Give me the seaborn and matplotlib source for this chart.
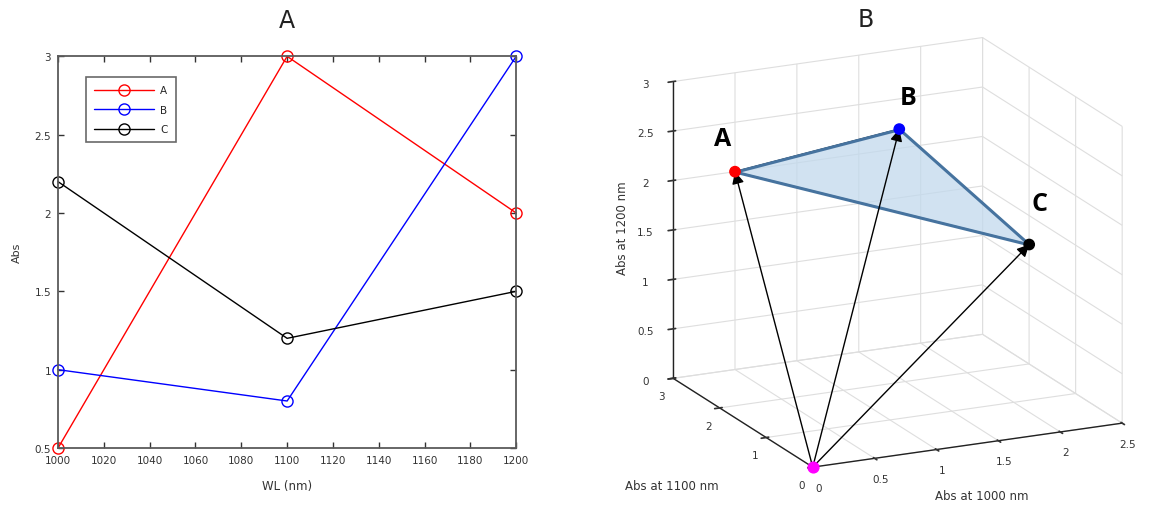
import numpy as np
import pandas as pd
import matplotlib
matplotlib.use("Agg")
import matplotlib.pyplot as plt
import matplotlib.transforms as mtransforms
import seaborn as sns
from matplotlib.patches import FancyArrowPatch
from mpl_toolkits.mplot3d import proj3d
from mpl_toolkits.mplot3d.art3d import Poly3DCollection

# Absorbance of three samples at three wavelengths
wavelengths = [1000, 1100, 1200]
abs_a = [0.5, 3.0, 2.0]
abs_b = [1.0, 0.8, 3.0]
abs_c = [2.2, 1.2, 1.5]
samples = ["A", "B", "C"]
sample_colors = ["#ff0000", "#0000ff", "#000000"]
origin_color = "#ff00ff"

x_ticks = list(range(1000, 1201, 20))
y_ticks = [0.5, 1, 1.5, 2, 2.5, 3]
x3_ticks = [0, 0.5, 1, 1.5, 2, 2.5]
y3_ticks = [0, 1, 2, 3]
z3_ticks = [0, 0.5, 1, 1.5, 2, 2.5, 3]


class Arrow3D(FancyArrowPatch):
    """A filled-head arrow between two 3D data points."""

    def __init__(self, start, end, **kwargs):
        super().__init__((0, 0), (0, 0), **kwargs)
        self._verts3d = np.array([start, end], dtype=float).T

    def do_3d_projection(self, renderer=None):
        xs3d, ys3d, zs3d = self._verts3d
        xs, ys, zs = proj3d.proj_transform(xs3d, ys3d, zs3d, self.axes.M)
        self.set_positions((xs[0], ys[0]), (xs[1], ys[1]))
        return np.min(zs)


def projected_anchor(ax3d, point):
    """Screen-space anchor of a 3D data point, for annotations."""
    def _anchor(renderer):
        xs, ys, _ = proj3d.proj_transform(*point, ax3d.get_proj())
        px, py = ax3d.transData.transform((xs, ys))
        return mtransforms.Bbox.from_bounds(px, py, 0, 0)
    return _anchor


sns.set_theme(style="white")
plt.rcParams["font.family"] = ["DejaVu Sans"]
plt.rcParams["grid.color"] = "#dedede"
plt.rcParams["grid.linewidth"] = 0.8

df = pd.DataFrame({
    "WL": wavelengths * 3,
    "Abs": abs_a + abs_b + abs_c,
    "Sample": np.repeat(samples, len(wavelengths)),
})

fig = plt.figure(figsize=(11.54, 5.10), dpi=100)

# ---- Panel A: absorbance spectra ----
ax = fig.add_axes([0.0503, 0.1196, 0.397, 0.768])
sns.lineplot(data=df, x="WL", y="Abs", hue="Sample", hue_order=samples,
             palette=sample_colors, marker="o", markersize=8,
             linewidth=1.0, legend=False, ax=ax)
for line, col in zip(ax.lines, sample_colors):
    line.set_markerfacecolor("none")
    line.set_markeredgecolor(col)
    line.set_markeredgewidth(1.0)
    line.set_clip_on(False)

ax.set_xlim(1000, 1200)
ax.set_ylim(0.5, 3)
ax.set_xticks(x_ticks)
ax.set_yticks(y_ticks)
ax.set_yticklabels([f"{v:g}" for v in y_ticks])
ax.tick_params(direction="in", length=4, width=1, top=True, right=True,
               bottom=True, left=True,
               labelsize=7.5, labelcolor="#333333", color="#333333", pad=5)
for sp in ax.spines.values():
    sp.set_color("#5a5a5a")
    sp.set_linewidth(1.3)
ax.set_xlabel("WL (nm)", fontsize=8.5, color="#333333", labelpad=10)
ax.set_ylabel("Abs", fontsize=8, color="#333333", labelpad=9)
ax.set_title("A", fontsize=17, color="#222222", pad=21)

leg = ax.legend(ax.lines, samples, loc="upper left",
                bbox_to_anchor=(0.061, 0.947), fontsize=7.5, frameon=True,
                fancybox=False, handlelength=5.7, labelspacing=0.9,
                borderpad=0.8, handletextpad=0.6, borderaxespad=0)
leg.get_frame().set_edgecolor("#444444")
leg.get_frame().set_linewidth(1.2)

# ---- Panel B: samples as vectors in absorbance space ----
points = np.array([abs_a, abs_b, abs_c])

ax3 = fig.add_axes([0.552, 0.0, 0.44, 0.98], projection="3d",
                   computed_zorder=False)
ax3.set_proj_type("ortho")
ax3.view_init(elev=17.5, azim=-115.3)
ax3.set_xlim(0, 2.5)
ax3.set_ylim(0, 3)
ax3.set_zlim(0, 3)
ax3.set_box_aspect((1.1, 1.05, 1.0), zoom=1.1)
ax3.set_xticks(x3_ticks)
ax3.set_yticks(y3_ticks)
ax3.set_zticks(z3_ticks)
ax3.set_xticklabels([f"{v:g}" for v in x3_ticks])
ax3.set_yticklabels([f"{v:g}" for v in y3_ticks])
ax3.set_zticklabels([f"{v:g}" for v in z3_ticks])
for axis in (ax3.xaxis, ax3.yaxis, ax3.zaxis):
    axis.set_pane_color((1, 1, 1, 0))
    axis.pane.set_edgecolor("#cccccc")
    axis.line.set_color("#222222")
    axis.line.set_linewidth(1.0)
    axis.get_offset_text().set_visible(False)
ax3.tick_params(labelsize=7.5, colors="#333333")
ax3.tick_params(axis="x", pad=-0.5)
ax3.tick_params(axis="y", pad=-1)
ax3.grid(True)

loop = np.vstack([points, points[:1]])
ax3.plot(loop[:, 0], loop[:, 1], loop[:, 2], color="black", lw=1.0, zorder=2)
tri = Poly3DCollection([points], facecolor=(0.76, 0.85, 0.93, 0.75),
                       edgecolor="#46739f", linewidth=2.2, zorder=3)
ax3.add_collection3d(tri)
for p in points:
    ax3.add_artist(Arrow3D((0, 0, 0), p, arrowstyle="-|>", mutation_scale=18,
                           color="black", linewidth=1.0, shrinkA=0,
                           shrinkB=0, zorder=4))
ax3.scatter(points[:, 0], points[:, 1], points[:, 2], c=sample_colors,
            s=55, depthshade=False, zorder=5)
ax3.scatter([0], [0], [0], c=origin_color, s=60, depthshade=False, zorder=5)

# Sample names placed just above each vector tip
label_offsets = [(-12, 33), (9, 32), (10, 41)]
for p, name, (dx, dy) in zip(points, samples, label_offsets):
    ax3.annotate(name, xy=(0, 0), xycoords=projected_anchor(ax3, p),
                 xytext=(dx, dy), textcoords="offset pixels",
                 fontsize=18, fontweight="bold", color="black",
                 family=["Open Sans", "DejaVu Sans"],
                 ha="center", va="center", zorder=6)

fig.text(866 / 1154, 1 - 20 / 510, "B", fontsize=17, color="#222222",
         ha="center", va="center")
fig.text(982 / 1154, 1 - 497 / 510, "Abs at 1000 nm", fontsize=8.5,
         color="#333333", ha="center", va="center")
fig.text(672 / 1154, 1 - 487 / 510, "Abs at 1100 nm", fontsize=8.5,
         color="#333333", ha="center", va="center")
fig.text(622 / 1154, 1 - 228 / 510, "Abs at 1200 nm", fontsize=8.5,
         color="#333333", ha="center", va="center", rotation=90)

fig.savefig("out.png", dpi=100)
